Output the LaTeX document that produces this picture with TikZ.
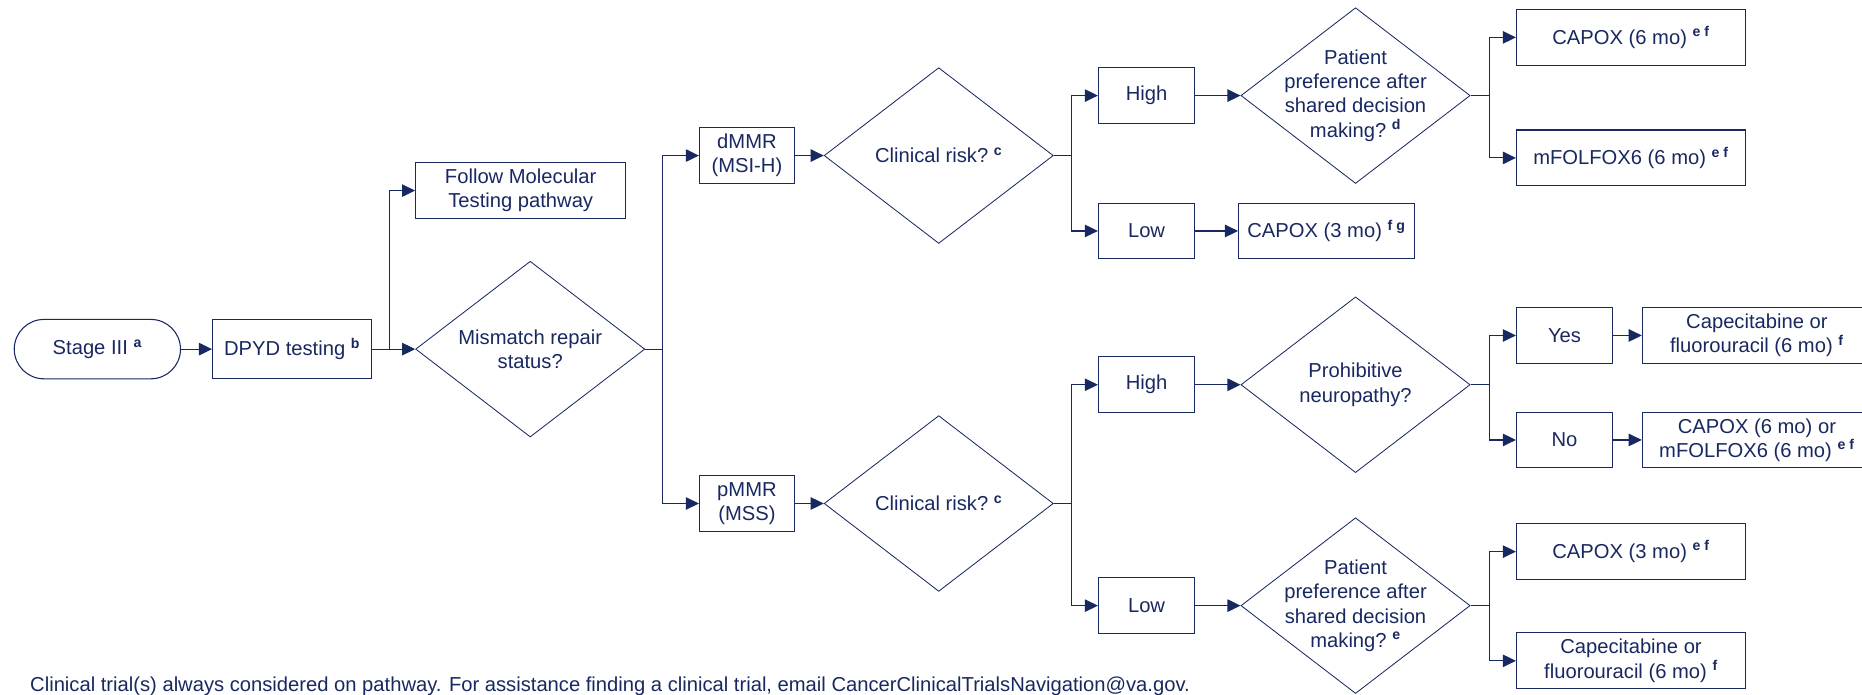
\documentclass[tikz,border=0pt]{standalone}
\usepackage{fontspec}
\setmainfont{Liberation Sans}
\usetikzlibrary{shapes.geometric,arrows.meta}
\definecolor{navy}{RGB}{24,40,96}
\newcommand{\refmark}[1]{\ \textsuperscript{\textbf{#1}}}

\begin{document}
\begin{tikzpicture}[x=1pt,y=-1pt,navy,line width=0.9pt,
  >={Triangle[length=11pt,width=10.5pt]},
  every node/.style={font=\fontsize{17}{20.5}\selectfont,align=center},
  box/.style={rectangle,draw,minimum width=81pt,minimum height=47pt,inner xsep=2pt,inner ysep=1pt},
  start/.style={box,rounded corners=25pt,minimum width=140pt,minimum height=50pt},
  dec/.style={diamond,draw,line width=0.7pt,shape aspect=1.3,minimum width=193pt,minimum height=148pt,inner sep=-20pt}]

  \useasboundingbox (0,0) rectangle (1568,585);

  % left part
  \node[start] (S3) at (82,294) {Stage III\refmark{a}};
  \node[box,minimum width=134pt,minimum height=50pt] (DPYD) at (246,294) {DPYD testing\refmark{b}};
  \node[box,minimum width=177pt] (FM) at (438.5,160.5) {Follow Molecular\\Testing pathway};
  \node[dec] (MMR) at (446.5,294) {Mismatch repair\\status?};

  \node[box,minimum width=80pt] (DM) at (629,131) {dMMR\\(MSI-H)};
  \node[box,minimum width=80pt] (PM) at (629,424) {pMMR\\(MSS)};
  \node[dec] (CR1) at (790.5,131) {Clinical risk?\refmark{c}};
  \node[dec] (CR2) at (790.5,424) {Clinical risk?\refmark{c}};

  % dMMR branch
  \node[box] (H1) at (965.5,80.5) {High};
  \node[box] (L1) at (965.5,194.5) {Low};
  \node[dec] (PP1) at (1141.5,80.5) {Patient\\preference after\\shared decision\\making?\refmark{d}};
  \node[box,minimum width=148pt] (C3A) at (1117,194.5) {CAPOX (3 mo)\refmark{f g}};
  \node[box,minimum width=193pt] (C6) at (1373.5,31.5) {CAPOX (6 mo)\refmark{e f}};
  \node[box,minimum width=193pt] (MF6) at (1373.5,133) {mFOLFOX6 (6 mo)\refmark{e f}};

  % pMMR branch
  \node[box] (H2) at (965.5,324) {High};
  \node[box] (L2) at (965.5,510) {Low};
  \node[dec] (PN) at (1141.5,324) {Prohibitive\\neuropathy?};
  \node[box] (Y) at (1317.5,282.5) {Yes};
  \node[box] (N) at (1317.5,370.5) {No};
  \node[box,minimum width=193pt] (CF1) at (1479.5,282.5) {Capecitabine or\\fluorouracil (6 mo)\refmark{f}};
  \node[box,minimum width=193pt] (CM) at (1479.5,370.5) {CAPOX (6 mo) or\\mFOLFOX6 (6 mo)\refmark{e f}};
  \node[dec] (PP2) at (1141.5,510) {Patient\\preference after\\shared decision\\making?\refmark{e}};
  \node[box,minimum width=193pt] (C3B) at (1373.5,464.5) {CAPOX (3 mo)\refmark{e f}};
  \node[box,minimum width=193pt] (CF2) at (1373.5,556.5) {Capecitabine or\\fluorouracil (6 mo)\refmark{f}};

  \node[anchor=base west,inner sep=0pt] (NOTE) at (25,582) {Clinical trial(s) always considered on pathway. For assistance finding a clinical trial, email CancerClinicalTrialsNavigation@va.gov.};

  % branch points
  \coordinate (J0) at (328,294);
  \coordinate (J1) at (558,294);
  \coordinate (J2) at (902,131);
  \coordinate (J3) at (902,424);
  \coordinate (J4) at (1254,80.5);
  \coordinate (J5) at (1254,324);
  \coordinate (J6) at (1254,510);

  \draw[->] (S3) -- (DPYD);
  \draw (DPYD) -- (J0);
  \draw[->] (J0) -- (MMR);
  \draw[->] (J0) |- (FM);

  \draw (MMR) -- (J1);
  \draw[->] (J1) |- (DM);
  \draw[->] (J1) |- (PM);
  \draw[->] (DM) -- (CR1);
  \draw[->] (PM) -- (CR2);

  \draw (CR1) -- (J2);
  \draw[->] (J2) |- (H1);
  \draw[->] (J2) |- (L1);
  \draw[->] (H1) -- (PP1);
  \draw[->] (L1) -- (C3A);
  \draw (PP1) -- (J4);
  \draw[->] (J4) |- (C6);
  \draw[->] (J4) |- (MF6);

  \draw (CR2) -- (J3);
  \draw[->] (J3) |- (H2);
  \draw[->] (J3) |- (L2);
  \draw[->] (H2) -- (PN);
  \draw[->] (L2) -- (PP2);
  \draw (PN) -- (J5);
  \draw[->] (J5) |- (Y);
  \draw[->] (J5) |- (N);
  \draw[->] (Y) -- (CF1);
  \draw[->] (N) -- (CM);
  \draw (PP2) -- (J6);
  \draw[->] (J6) |- (C3B);
  \draw[->] (J6) |- (CF2);

\end{tikzpicture}
\end{document}
